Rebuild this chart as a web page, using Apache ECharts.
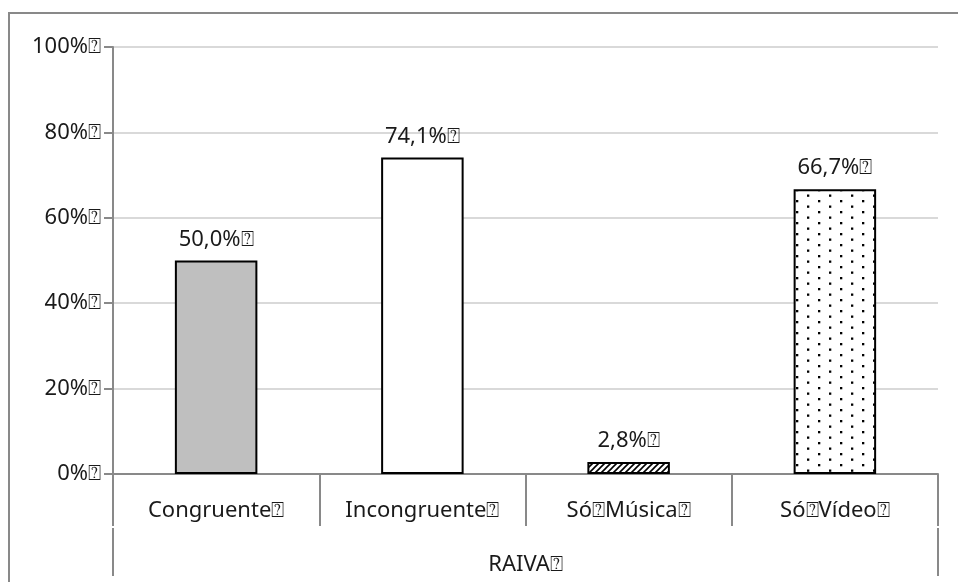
<!DOCTYPE html>
<html><head><meta charset="utf-8">
<script src="https://cdn.jsdelivr.net/npm/echarts@6/dist/echarts.min.js"></script>
<style>html,body{margin:0;padding:0;background:#fff}#c{width:958px;height:582px}</style>
</head><body><div id="c"></div>
<script>
var categories = ['Congruente\u2370', 'Incongruente\u2370', 'Só\u2370Música\u2370', 'Só\u2370Vídeo\u2370'];
var groupLabels = ['RAIVA\u2370'];
var values = [50.0, 74.1, 2.8, 66.7];
var yTicks = [0, 20, 40, 60, 80, 100];

function hatch() {
  var c = document.createElement('canvas'); c.width = 6; c.height = 6;
  var g = c.getContext('2d'); g.fillStyle = '#fff'; g.fillRect(0,0,6,6);
  g.strokeStyle = '#000'; g.lineWidth = 1.6;
  g.beginPath(); g.moveTo(-1,7); g.lineTo(7,-1); g.moveTo(-4,4); g.lineTo(4,-4); g.moveTo(2,10); g.lineTo(10,2); g.stroke();
  return c;
}
function dots() {
  var c = document.createElement('canvas'); c.width = 22; c.height = 11;
  var g = c.getContext('2d'); g.fillStyle = '#fff'; g.fillRect(0,0,22,11);
  g.fillStyle = '#000'; g.fillRect(4,2,2.3,2.3); g.fillRect(15,7.5,2.3,2.3);
  return c;
}
var fills = ['#bfbfbf', '#ffffff', {image: hatch(), repeat: 'repeat'}, {image: dots(), repeat: 'repeat'}];
var FONT = 'Noto Sans';
var FS = 22;
var chart = echarts.init(document.getElementById('c'));
chart.setOption({
  animation: false,
  backgroundColor: '#fff',
  graphic: [{type: 'rect', shape: {x: 9, y: 13, width: 980, height: 600}, style: {fill: 'none', stroke: '#898989', lineWidth: 2}, silent: true}],
  grid: {left: 113, right: 20, top: 47, bottom: 108},
  xAxis: [{
    type: 'category', data: categories, position: 'bottom',
    axisLine: {lineStyle: {color: '#898989', width: 2}},
    axisTick: {show: true, interval: 0, length: 52, lineStyle: {color: '#898989', width: 2}},
    axisLabel: {interval: 0, margin: 26, color: '#1a1a1a', fontSize: FS, fontFamily: FONT}
  }, {
    type: 'category', data: groupLabels, position: 'bottom', offset: 54,
    axisLine: {show: false},
    axisTick: {show: true, length: 48, lineStyle: {color: '#898989', width: 2}},
    axisLabel: {margin: 26, color: '#1a1a1a', fontSize: FS, fontFamily: FONT}
  }],
  yAxis: {
    type: 'value', min: 0, max: 100, interval: 20,
    axisLine: {show: true, lineStyle: {color: '#898989', width: 2}},
    axisTick: {show: true, length: 9, lineStyle: {color: '#898989', width: 2}},
    splitLine: {lineStyle: {color: '#d9d9d9', width: 2}},
    axisLabel: {margin: 12, color: '#1a1a1a', fontSize: FS, fontFamily: FONT, formatter: function(v){return v + '%\u2370';}}
  },
  series: [{
    type: 'bar', xAxisIndex: 0, barWidth: '40%',
    data: values.map(function(v, i){return {value: v, itemStyle: {color: fills[i]}};}),
    itemStyle: {borderColor: '#000', borderWidth: 2},
    label: {show: true, position: 'top', distance: 10, color: '#1a1a1a', fontSize: FS, fontFamily: FONT,
      formatter: function(p){return p.value.toFixed(1).replace('.', ',') + '%\u2370';}}
  }]
});
</script></body></html>
